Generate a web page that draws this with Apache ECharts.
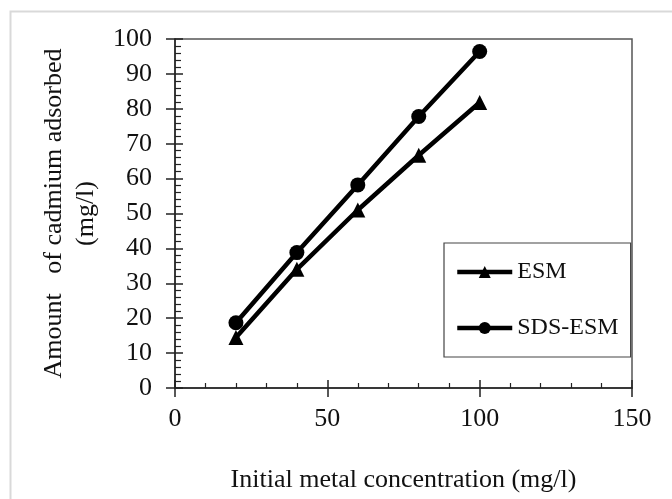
<!DOCTYPE html>
<html>
<head>
<meta charset="utf-8">
<script src="https://cdn.jsdelivr.net/npm/echarts@6/dist/echarts.min.js"></script>
<style>html,body{margin:0;padding:0;background:#fff;}#c{width:672px;height:499px;}</style>
</head>
<body>
<div id="c"></div>
<script>
var concentrations = [20, 40, 60, 80, 100];
var esmValues = [14.5, 34.0, 51.0, 66.7, 81.8];
var sdsEsmValues = [18.7, 38.8, 58.2, 77.8, 96.4];
var seriesNames = ['ESM', 'SDS-ESM'];
var xAxisTitle = 'Initial metal concentration (mg/l)';
var yAxisTitle = 'Amount   of cadmium adsorbed\n(mg/l)';

var FONT = 'Liberation Serif';
var FS = 26;
var chart = echarts.init(document.getElementById('c'), null, {renderer: 'canvas'});

function pairs(xs, ys) { return xs.map(function (x, i) { return [x, ys[i]]; }); }

var option = {
  backgroundColor: '#ffffff',
  animation: false,
  graphic: [{
    type: 'rect', left: 8, top: 9, z: -10,
    shape: {width: 720, height: 560},
    style: {fill: 'none', stroke: '#d9d9d9', lineWidth: 2}
  }],
  grid: {
    left: 175, top: 39, right: 40, bottom: 111,
    show: true, borderColor: '#555', borderWidth: 1.5, backgroundColor: 'transparent'
  },
  legend: {
    orient: 'vertical', left: 444, top: 243,
    data: seriesNames,
    itemWidth: 55, itemHeight: 15, itemGap: 32,
    padding: [17, 12, 17, 11],
    borderColor: '#444', borderWidth: 1.2,
    lineStyle: {width: 4.5, color: '#000'},
    itemStyle: {color: '#000'},
    textStyle: {fontFamily: FONT, fontSize: 24, color: '#111', lineHeight: 24}
  },
  xAxis: [{
    type: 'value', min: 0, max: 150, interval: 50, position: 'bottom',
    name: xAxisTitle, nameLocation: 'middle', nameGap: 79,
    nameTextStyle: {fontFamily: FONT, fontSize: FS, color: '#111'},
    axisLine: {onZero: false, lineStyle: {color: '#222', width: 1.5}},
    axisTick: {show: true, inside: false, length: 9, lineStyle: {color: '#222', width: 1.5}},
    minorTick: {show: false},
    axisLabel: {fontFamily: FONT, fontSize: FS, color: '#111', margin: 18},
    splitLine: {show: false}
  }, {
    type: 'value', min: 0, max: 150, interval: 50, position: 'bottom', gridIndex: 0,
    axisLine: {show: false, onZero: false},
    axisTick: {show: true, inside: true, length: 8, lineStyle: {color: '#222', width: 1.5}},
    minorTick: {show: true, splitNumber: 5, length: 5, lineStyle: {color: '#222', width: 1.2}},
    axisLabel: {show: false},
    splitLine: {show: false}
  }],
  yAxis: [{
    type: 'value', min: 0, max: 100, interval: 10, position: 'left',
    name: yAxisTitle, nameLocation: 'middle', nameGap: 64,
    nameTextStyle: {fontFamily: FONT, fontSize: FS, color: '#111', lineHeight: 32, align: 'center'},
    axisLine: {onZero: false, lineStyle: {color: '#222', width: 1.5}},
    axisTick: {show: true, inside: false, length: 9, lineStyle: {color: '#222', width: 1.5}},
    minorTick: {show: false},
    axisLabel: {fontFamily: FONT, fontSize: FS, color: '#111', margin: 23},
    splitLine: {show: false}
  }, {
    type: 'value', min: 0, max: 100, interval: 10, position: 'left', gridIndex: 0,
    axisLine: {show: false, onZero: false},
    axisTick: {show: true, inside: true, length: 8, lineStyle: {color: '#222', width: 1.5}},
    minorTick: {show: true, splitNumber: 5, length: 6, lineStyle: {color: '#222', width: 1.2}},
    axisLabel: {show: false},
    splitLine: {show: false}
  }],
  series: [{
    name: seriesNames[0], type: 'line', xAxisIndex: 0, yAxisIndex: 0,
    data: pairs(concentrations, esmValues),
    symbol: 'triangle', symbolSize: 15,
    lineStyle: {color: '#000', width: 4.5},
    itemStyle: {color: '#000'}
  }, {
    name: seriesNames[1], type: 'line', xAxisIndex: 0, yAxisIndex: 0,
    data: pairs(concentrations, sdsEsmValues),
    symbol: 'circle', symbolSize: 15,
    lineStyle: {color: '#000', width: 4.5},
    itemStyle: {color: '#000'}
  }]
};
chart.setOption(option);
</script>
</body>
</html>
